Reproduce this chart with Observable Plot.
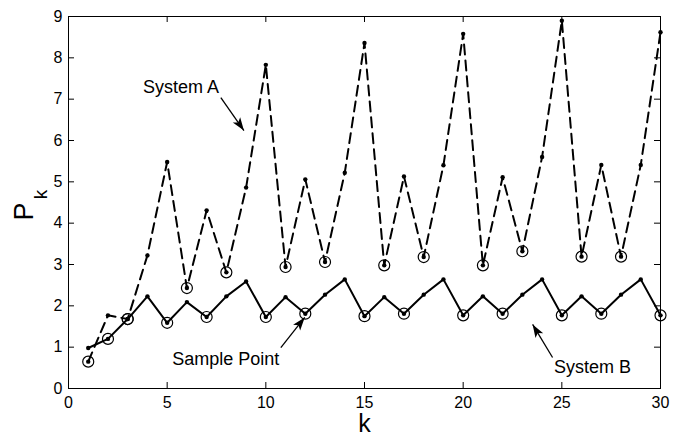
<!DOCTYPE html>
<html>
<head>
<meta charset="utf-8">
<script src="https://cdn.jsdelivr.net/npm/d3@7"></script>
<script src="https://cdn.jsdelivr.net/npm/@observablehq/plot@0.6"></script>
<style>
  html, body { margin: 0; padding: 0; background: #fff; }
</style>
</head>
<body>
<div id="chart"></div>
<script>
const kValues = d3.range(1, 31);
const systemA = [0.65,1.77,1.68,3.22,5.48,2.43,4.31,2.81,4.86,7.83,2.94,5.06,3.06,5.22,8.36,2.98,5.13,3.18,5.40,8.58,2.98,5.11,3.32,5.60,8.90,3.19,5.41,3.19,5.41,8.62];
const systemB = [0.98,1.20,1.68,2.23,1.59,2.09,1.73,2.23,2.59,1.73,2.21,1.81,2.27,2.64,1.75,2.21,1.81,2.27,2.64,1.77,2.23,1.81,2.27,2.64,1.77,2.23,1.81,2.27,2.64,1.77];
const sampleA = [1,3,6,8,11,13,16,18,21,23,26,28];
const sampleB = [2,3,5,7,10,12,15,17,20,22,25,27,30];
const xTicks = [0,5,10,15,20,25,30];
const yTicks = [0,1,2,3,4,5,6,7,8,9];
const labels = [
  {text: "System A", x: 5.70, y: 7.28},
  {text: "Sample Point", x: 7.97, y: 0.70},
  {text: "System B", x: 26.56, y: 0.51}
];
const arrows = [
  {x1: 7.72, y1: 7.04, x2: 8.89, y2: 6.24},
  {x1: 10.76, y1: 0.99, x2: 11.97, y2: 1.72},
  {x1: 24.53, y1: 0.75, x2: 23.52, y2: 1.55}
];

const W = 685, H = 435;
const mL = 68, mR = 25, mT = 16, mB = 47;
const iw = W - mL - mR, ih = H - mT - mB;
const kx = iw / 30, ky = ih / 9;

const dataA = kValues.map((k, i) => ({k, v: systemA[i]}));
const dataB = kValues.map((k, i) => ({k, v: systemB[i]}));
const circA = sampleA.map(k => ({k, v: systemA[k - 1]}));
const circB = sampleB.map(k => ({k, v: systemB[k - 1]}));

// narrow filled arrowhead with its tip at the origin, pointing up
const arrowHead = {
  draw(context) {
    context.moveTo(0, 0);
    context.lineTo(4.5, 13);
    context.lineTo(0, 10);
    context.lineTo(-4.5, 13);
    context.closePath();
  }
};

const font = "'Liberation Sans', Arial, Helvetica, sans-serif";

const plot = Plot.plot({
  width: W, height: H,
  marginLeft: mL, marginRight: mR, marginTop: mT, marginBottom: mB,
  x: {domain: [0, 30]},
  y: {domain: [0, 9]},
  axis: null,
  style: {fontFamily: font, fontSize: "16px", background: "#fff", color: "#000"},
  marks: [
    Plot.frame({stroke: "#000", strokeWidth: 1}),
    Plot.tickX(xTicks, {x: d => d, insetTop: ih - 6, stroke: "#000"}),
    Plot.tickX(xTicks, {x: d => d, insetBottom: ih - 6, stroke: "#000"}),
    Plot.tickY(yTicks, {y: d => d, insetRight: iw - 6, stroke: "#000"}),
    Plot.tickY(yTicks, {y: d => d, insetLeft: iw - 6, stroke: "#000"}),
    Plot.axisX({ticks: xTicks, tickSize: 0, tickPadding: 8, fontSize: 16, label: null, tickFormat: d => d}),
    Plot.axisY({ticks: yTicks, tickSize: 0, tickPadding: 6, fontSize: 16, label: null, tickFormat: d => d}),
    Plot.line(dataA, {x: "k", y: "v", stroke: "#000", strokeWidth: 2, strokeDasharray: "10,6"}),
    Plot.line(dataB, {x: "k", y: "v", stroke: "#000", strokeWidth: 2}),
    Plot.dot(dataA, {x: "k", y: "v", r: 2.2, fill: "#000"}),
    Plot.dot(dataB, {x: "k", y: "v", r: 2.2, fill: "#000"}),
    Plot.dot(circA, {x: "k", y: "v", r: 5.5, stroke: "#000", strokeWidth: 1.2, fill: "none"}),
    Plot.dot(circB, {x: "k", y: "v", r: 5.5, stroke: "#000", strokeWidth: 1.2, fill: "none"}),
    Plot.link(arrows, {x1: "x1", y1: "y1", x2: "x2", y2: "y2", stroke: "#000", strokeWidth: 1.3}),
    Plot.dot(arrows, {
      x: "x2", y: "y2", symbol: arrowHead, fill: "#000", stroke: "none",
      rotate: d => Math.atan2((d.x2 - d.x1) * kx, (d.y2 - d.y1) * ky) * 180 / Math.PI
    }),
    Plot.text(labels, {x: "x", y: "y", text: "text", fontSize: 18, fill: "#000", textAnchor: "middle", lineAnchor: "middle"}),
    Plot.text(["k"], {frameAnchor: "bottom", text: d => d, dy: 35, fontSize: 25, fill: "#000", lineAnchor: "middle"}),
    Plot.text(["P"], {frameAnchor: "left", text: d => d, dx: -44, dy: 9, rotate: -90, fontSize: 27, fill: "#000", textAnchor: "middle", lineAnchor: "middle"}),
    Plot.text(["k"], {frameAnchor: "left", text: d => d, dx: -28, dy: -8, rotate: -90, fontSize: 19, fill: "#000", textAnchor: "middle", lineAnchor: "middle"})
  ]
});
document.getElementById("chart").appendChild(plot);
</script>
</body>
</html>
